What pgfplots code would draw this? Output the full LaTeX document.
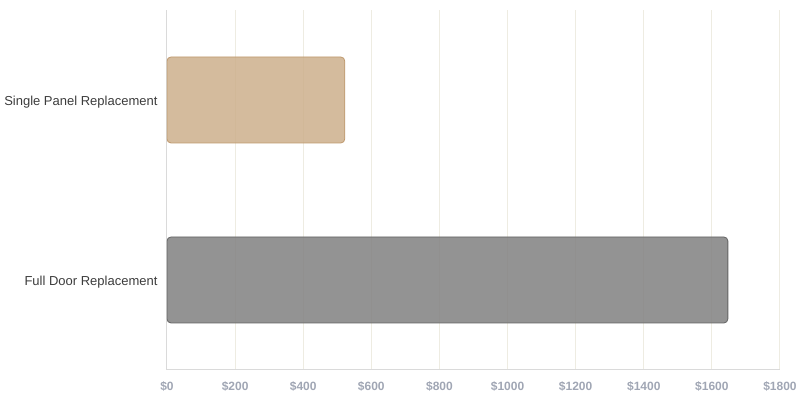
\documentclass[border=0pt]{standalone}
\usepackage{fontspec}
\setmainfont{Liberation Sans}
\usepackage{pgfplots}
\pgfplotsset{compat=1.18}

\definecolor{panelfill}{RGB}{205,175,140}
\definecolor{paneledge}{RGB}{190,152,108}
\definecolor{doorfill}{RGB}{135,135,135}
\definecolor{dooredge}{RGB}{100,100,100}
\definecolor{gridc}{RGB}{238,236,226}
\definecolor{axisc}{RGB}{218,218,218}
\definecolor{tickc}{RGB}{160,166,180}
\definecolor{labelc}{RGB}{60,60,60}

\begin{document}
\begin{tikzpicture}[x=1pt,y=1pt]
    \begin{axis}[%
            name=ax,
            scale only axis,
            width=613pt,
            height=360pt,
            xbar,
            bar width=86pt,
            bar shift=0pt,
            xmin=0, xmax=1800,
            ymin=-0.5, ymax=1.5,
            xtick={0,200,...,1800},
            xticklabel={\textbf{\$\pgfmathprintnumber[fixed,precision=0,1000 sep={}]{\tick}}},
            ytick={0,1},
            yticklabels={Full Door Replacement,Single Panel Replacement},
            /pgf/number format/assume math mode=true,
            xticklabel style={font=\fontsize{12}{14}\selectfont, text=tickc, yshift=-8pt},
            yticklabel style={font=\fontsize{13}{15}\selectfont, text=labelc, xshift=-6pt, yshift=-2pt},
            xmajorgrids,
            major grid style={gridc, line width=1pt},
            major tick length=0pt,
            axis x line*=bottom,
            axis y line*=left,
            axis line style={axisc, line width=1pt},
        ]
        \addplot[fill=doorfill, fill opacity=0.9, draw=dooredge, line width=0.8pt, rounded corners=4pt]
            coordinates {(1647,0)};
        \addplot[fill=panelfill, fill opacity=0.85, draw=paneledge, line width=0.8pt, rounded corners=4pt]
            coordinates {(522,1)};
    \end{axis}
    \path[use as bounding box] ([xshift=-167pt,yshift=-30pt]ax.south west)
        rectangle ([xshift=20pt,yshift=10pt]ax.north east);
\end{tikzpicture}
\end{document}
